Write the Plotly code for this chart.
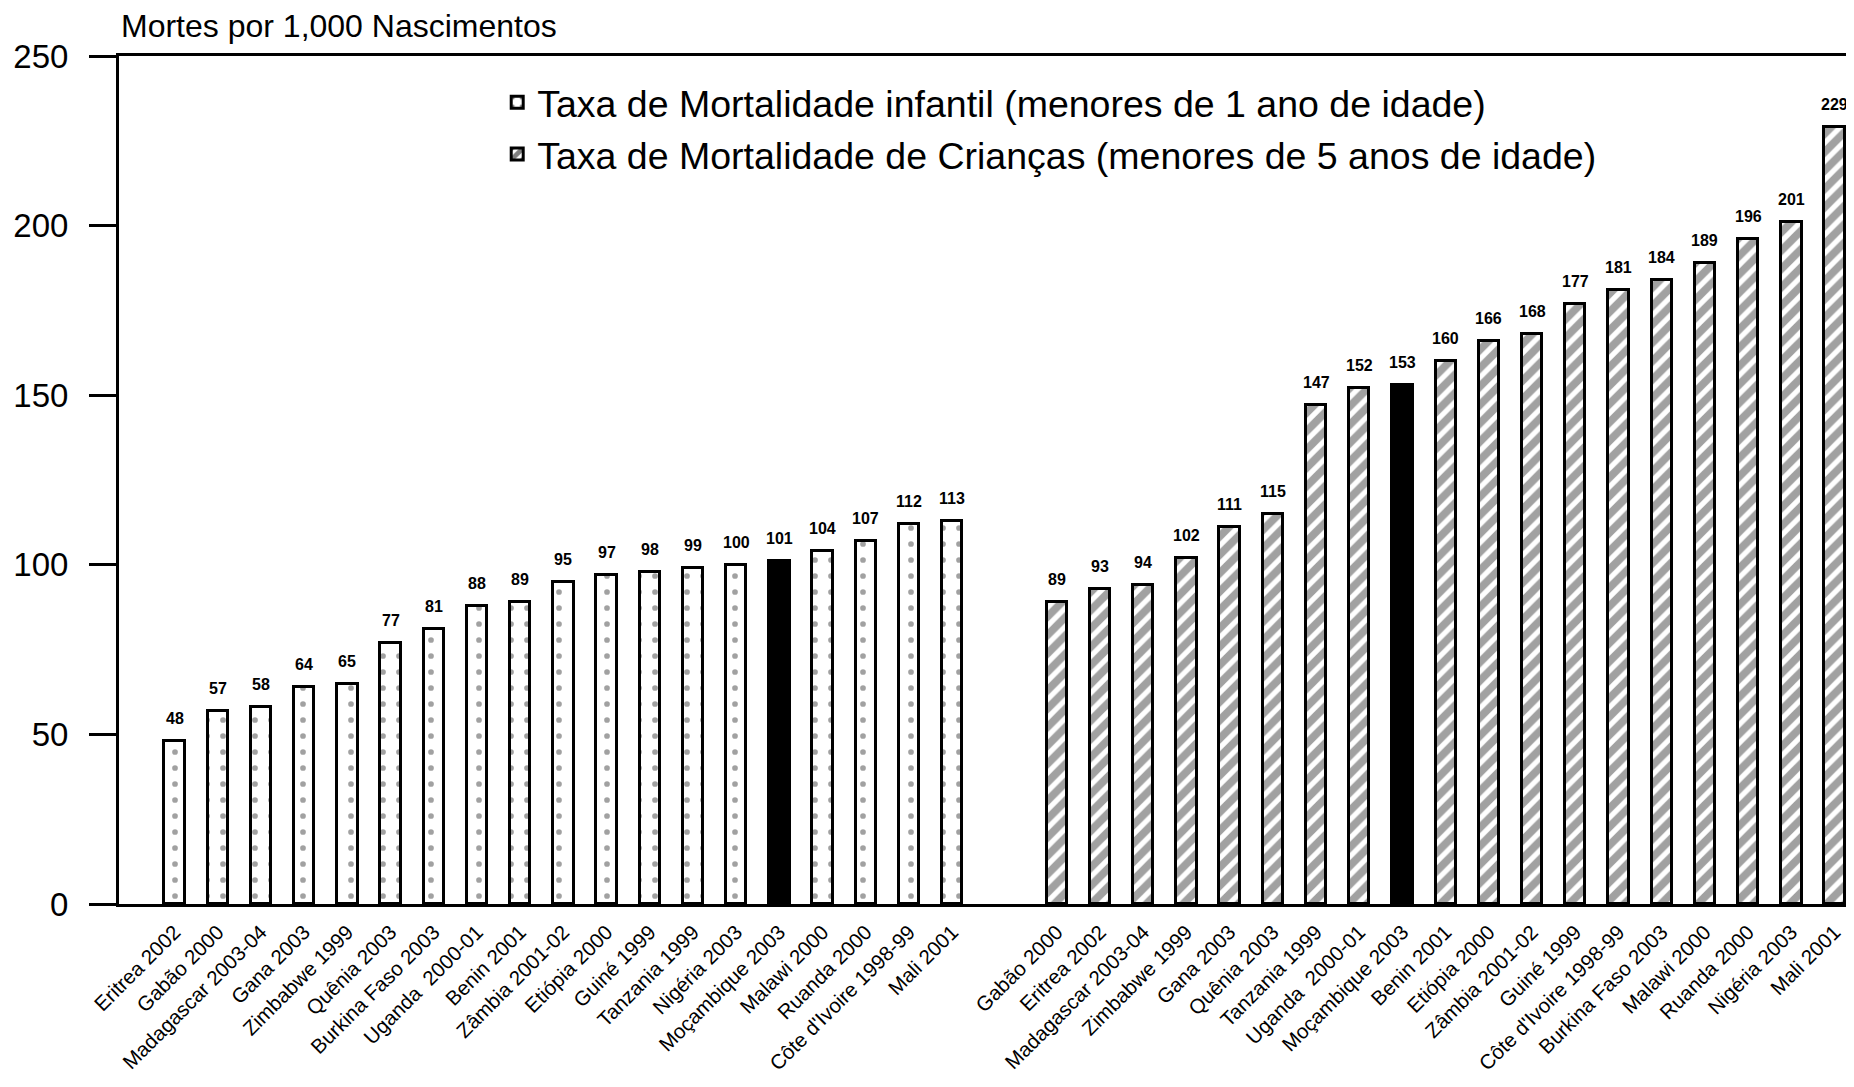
import plotly.graph_objects as go

# Taxa de mortalidade infantil (menores de 1 ano)
infant_countries = ["Eritrea 2002", "Gabão 2000", "Madagascar 2003-04", "Gana 2003", "Zimbabwe 1999",
                    "Quênia 2003", "Burkina Faso 2003", "Uganda  2000-01", "Benin 2001", "Zâmbia 2001-02",
                    "Etiópia 2000", "Guiné 1999", "Tanzania 1999", "Nigéria 2003", "Moçambique 2003",
                    "Malawi 2000", "Ruanda 2000", "Côte d'Ivoire 1998-99", "Mali 2001"]
infant_values = [48, 57, 58, 64, 65, 77, 81, 88, 89, 95, 97, 98, 99, 100, 101, 104, 107, 112, 113]

# Taxa de mortalidade de crianças (menores de 5 anos)
child_countries = ["Gabão 2000", "Eritrea 2002", "Madagascar 2003-04", "Zimbabwe 1999", "Gana 2003",
                   "Quênia 2003", "Tanzania 1999", "Uganda  2000-01", "Moçambique 2003", "Benin 2001",
                   "Etiópia 2000", "Zâmbia 2001-02", "Guiné 1999", "Côte d'Ivoire 1998-99",
                   "Burkina Faso 2003", "Malawi 2000", "Ruanda 2000", "Nigéria 2003", "Mali 2001"]
child_values = [89, 93, 94, 102, 111, 115, 147, 152, 153, 160, 166, 168, 177, 181, 184, 189, 196, 201, 229]

HIGHLIGHT = "Moçambique 2003"
GAP = 2.42
FONT = "Liberation Sans, Arial, sans-serif"

x_inf = list(range(len(infant_values)))
x_chi = [len(infant_values) - 1 + GAP + i for i in range(len(child_values))]


def bar_style(countries, shape):
    colors = ["black" if c == HIGHLIGHT else "white" for c in countries]
    shapes = ["" if c == HIGHLIGHT else shape for c in countries]
    return colors, shapes


fig = go.Figure()

c1, s1 = bar_style(infant_countries, ".")
fig.add_trace(go.Bar(
    x=x_inf, y=infant_values, width=0.47,
    name="Taxa de Mortalidade infantil (menores de 1 ano de idade)",
    marker=dict(color=c1, line=dict(color="black", width=3),
                pattern=dict(shape=s1, fgcolor="black", bgcolor="white", size=16, solidity=0.1)),
))

c2, s2 = bar_style(child_countries, "/")
fig.add_trace(go.Bar(
    x=x_chi, y=child_values, width=0.47,
    name="Taxa de Mortalidade de Crianças (menores de 5 anos de idade)",
    marker=dict(color=c2, line=dict(color="black", width=3),
                pattern=dict(shape=s2, fgcolor="black", bgcolor="white", size=13, solidity=0.6)),
))

# rótulos de valores acima das barras
for xs, vals in [(x_inf, infant_values), (x_chi, child_values)]:
    for x, v in zip(xs, vals):
        fig.add_annotation(x=x, y=v, text=f"<b>{v}</b>", showarrow=False,
                           yanchor="bottom", yshift=12,
                           font=dict(family=FONT, size=16, color="black"))

fig.add_annotation(xref="paper", yref="paper", x=0, y=1, xanchor="left", yanchor="middle",
                   yshift=30, text="Mortes por 1,000 Nascimentos", showarrow=False,
                   font=dict(family=FONT, size=32, color="black"))

fig.update_layout(
    width=1838, height=1071,
    margin=dict(l=111, r=0, t=48, b=175),
    paper_bgcolor="white", plot_bgcolor="white",
    font=dict(family=FONT, color="black"),
    showlegend=True,
    legend=dict(x=0.219, y=0.982, xanchor="left", yanchor="top",
                font=dict(family=FONT, size=37.5, color="black"),
                bgcolor="rgba(0,0,0,0)", tracegroupgap=0),
    bargap=0,
)
fig.update_xaxes(
    range=[-1.285, 38.685],
    tickvals=x_inf + x_chi, ticktext=infant_countries + child_countries,
    tickangle=-45, tickfont=dict(family=FONT, size=20.5, color="black"),
    ticklabelstandoff=5,
    showline=True, linecolor="black", linewidth=3, mirror=True,
    showgrid=False, zeroline=False, ticks="", automargin=False,
)
fig.update_yaxes(
    range=[0, 250], tickvals=[0, 50, 100, 150, 200, 250],
    tickfont=dict(family=FONT, size=33, color="black"),
    ticks="outside", ticklen=27, tickwidth=3, tickcolor="black",
    ticklabelstandoff=14,
    showline=True, linecolor="black", linewidth=3,
    showgrid=False, zeroline=False, automargin=False,
)

fig.write_html("out.html")
